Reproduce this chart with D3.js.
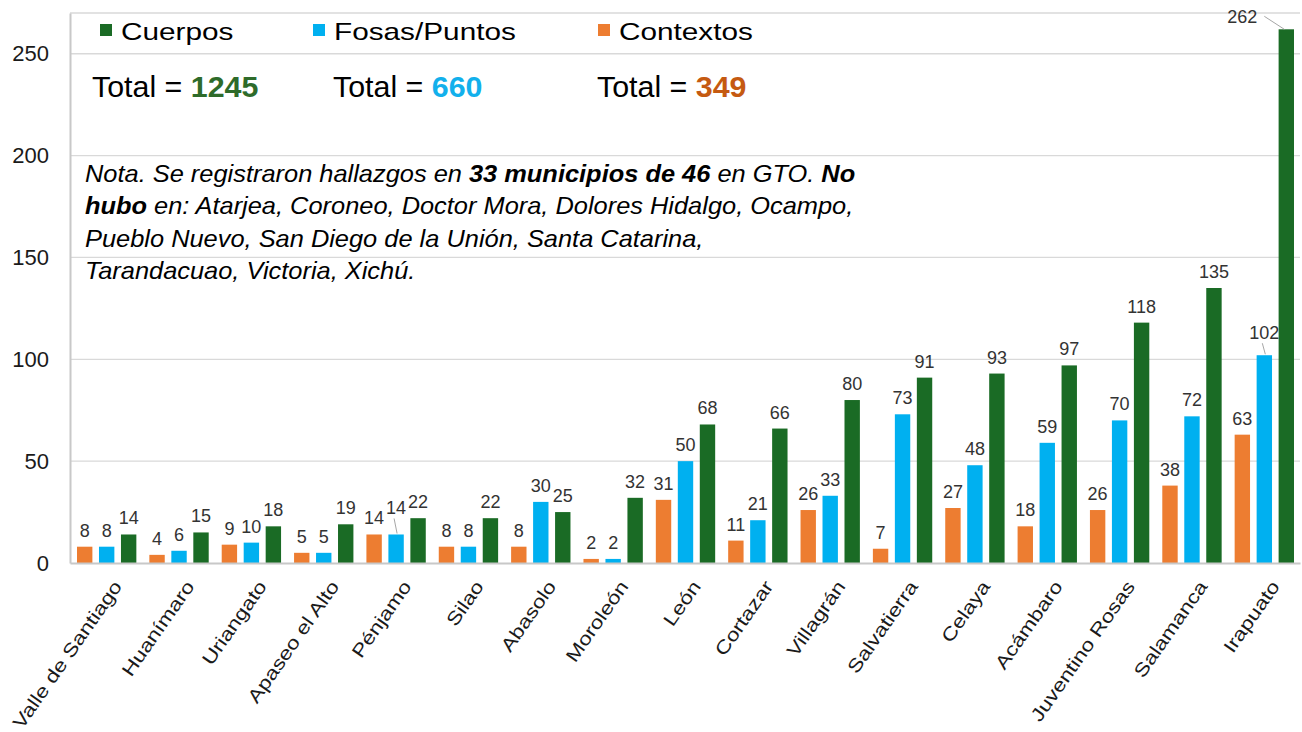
<!DOCTYPE html>
<meta charset="utf-8">
<head>
<script src="https://d3js.org/d3.v7.min.js"></script>
<style>
  body { margin: 0; background: #fff; }
  text { font-family: "Liberation Sans", Arial, sans-serif; }
</style>
</head>
<body>
<div id="chart"></div>
<script>
// data
var municipios = ["Valle de Santiago", "Huanímaro", "Uriangato", "Apaseo el Alto", "Pénjamo", "Silao",
  "Abasolo", "Moroleón", "León", "Cortazar", "Villagrán", "Salvatierra", "Celaya", "Acámbaro",
  "Juventino Rosas", "Salamanca", "Irapuato"];
var contextos = [8, 4, 9, 5, 14, 8, 8, 2, 31, 11, 26, 7, 27, 18, 26, 38, 63];
var fosas     = [8, 6, 10, 5, 14, 8, 30, 2, 50, 21, 33, 73, 48, 59, 70, 72, 102];
var cuerpos   = [14, 15, 18, 19, 22, 22, 25, 32, 68, 66, 80, 91, 93, 97, 118, 135, 262];
var yTicks = [0, 50, 100, 150, 200, 250];

var series = [
  {key: "Contextos", values: contextos, color: "#ed7d31"},
  {key: "Fosas/Puntos", values: fosas, color: "#00b0f0"},
  {key: "Cuerpos", values: cuerpos, color: "#1a6b25"}
];

var W = 1302, H = 732;
var plotL = 70, plotR = 1300, plotT = 13, plotB = 563;

var svg = d3.select("#chart").append("svg")
  .attr("width", W).attr("height", H);

var x = d3.scaleBand().domain(municipios).range([plotL, plotR]);
var x1 = d3.scaleBand().domain(series.map(function(s) { return s.key; }))
  .range([7, x.bandwidth() - 6]).paddingInner(0.3);
var y = d3.scaleLinear().domain([0, 270]).range([plotB, plotT]);

// gridlines
svg.append("g").selectAll("line")
  .data(yTicks.slice(1).concat([270]))
  .join("line")
    .attr("x1", plotL).attr("x2", plotR)
    .attr("y1", function(d) { return y(d); })
    .attr("y2", function(d) { return y(d); })
    .attr("stroke", "#d9d9d9").attr("stroke-width", 1.3);

// y axis labels
var yAxis = svg.append("g")
  .attr("transform", "translate(" + plotL + ",0)")
  .call(d3.axisLeft(y).tickValues(yTicks).tickSize(0).tickPadding(21));
yAxis.select(".domain").attr("stroke", "#c8c8c8").attr("stroke-width", 2);
yAxis.selectAll("text").attr("font-size", 22).attr("fill", "#1a1a1a")
  .style("font-family", "'Liberation Sans', Arial, sans-serif");

// bars
series.forEach(function(s) {
  svg.append("g").selectAll("rect")
    .data(s.values)
    .join("rect")
      .attr("x", function(d, i) { return x(municipios[i]) + x1(s.key); })
      .attr("y", function(d) { return y(d); })
      .attr("width", x1.bandwidth())
      .attr("height", function(d) { return y(0) - y(d); })
      .attr("fill", s.color);
});

// x axis
var xAxis = svg.append("g")
  .attr("transform", "translate(0," + plotB + ")")
  .call(d3.axisBottom(x).tickSize(0).tickSizeOuter(0));
xAxis.select(".domain").attr("stroke", "#c8c8c8").attr("stroke-width", 2);
xAxis.selectAll("text")
  .attr("font-size", 18.5).attr("fill", "#1a1a1a")
  .attr("text-anchor", "end")
  .attr("dy", "0.7em").attr("y", 0)
  .attr("transform", "translate(6,16) rotate(-55) scale(1.22,1)")
  .style("font-family", "'Liberation Sans', Arial, sans-serif");

// data labels
var moved = {"Fosas/Puntos|4": [0, -10], "Fosas/Puntos|16": [0, -6], "Cuerpos|16": [-44, 4]};
series.forEach(function(s) {
  s.values.forEach(function(v, i) {
    var cx = x(municipios[i]) + x1(s.key) + x1.bandwidth() / 2;
    var cy = y(v) - 10;
    var off = moved[s.key + "|" + i];
    if (off) {
      var lx1, ly1, lx2, ly2;
      if (off[0] < 0) { lx1 = cx + off[0] + 22; ly1 = cy + off[1] - 7; lx2 = cx - 2; ly2 = y(v); }
      else { lx1 = cx - 2; ly1 = cy + off[1] + 4; lx2 = cx + 1; ly2 = y(v) - 1; }
      svg.append("line")
        .attr("x1", lx1).attr("y1", ly1).attr("x2", lx2).attr("y2", ly2)
        .attr("stroke", "#a6a6a6").attr("stroke-width", 1);
      cx += off[0]; cy += off[1];
    }
    svg.append("text")
      .attr("x", cx).attr("y", cy)
      .attr("text-anchor", "middle")
      .attr("font-size", 18).attr("fill", "#333")
      .text(v);
  });
});

// legend
var legend = [
  {label: "Cuerpos", color: "#1a6b25", x: 100},
  {label: "Fosas/Puntos", color: "#00b0f0", x: 313},
  {label: "Contextos", color: "#ed7d31", x: 598}
];
legend.forEach(function(l) {
  svg.append("rect").attr("x", l.x).attr("y", 24).attr("width", 12).attr("height", 12).attr("fill", l.color);
  svg.append("text").attr("transform", "translate(" + (l.x + 21) + ",40) scale(1.24,1)")
    .attr("font-size", 24).attr("fill", "#000").text(l.label);
});

// totals
var totals = [
  {value: "1245", color: "#2e6b2a", x: 92},
  {value: "660", color: "#12b0ec", x: 333},
  {value: "349", color: "#c55a11", x: 597}
];
totals.forEach(function(t) {
  var tx = svg.append("text").attr("transform", "translate(" + t.x + ",97) scale(1.03,1)")
    .attr("font-size", 29.5).attr("fill", "#000");
  tx.append("tspan").text("Total = ");
  tx.append("tspan").attr("font-weight", "bold").attr("fill", t.color).text(t.value);
});

// note
var note = [
  [["Nota. Se registraron hallazgos en ", false], ["33 municipios de 46", true], [" en GTO. ", false], ["No", true]],
  [["hubo", true], [" en: Atarjea, Coroneo, Doctor Mora, Dolores Hidalgo, Ocampo,", false]],
  [["Pueblo Nuevo, San Diego de la Unión, Santa Catarina,", false]],
  [["Tarandacuao, Victoria, Xichú.", false]]
];
note.forEach(function(line, i) {
  var t = svg.append("text").attr("transform", "translate(85," + (182 + i * 32.3) + ") scale(1.105,1)")
    .attr("font-size", 23).attr("font-style", "italic").attr("fill", "#000");
  line.forEach(function(p) {
    t.append("tspan").attr("font-weight", p[1] ? "bold" : "normal").text(p[0]);
  });
});
</script>
</body>
</html>
